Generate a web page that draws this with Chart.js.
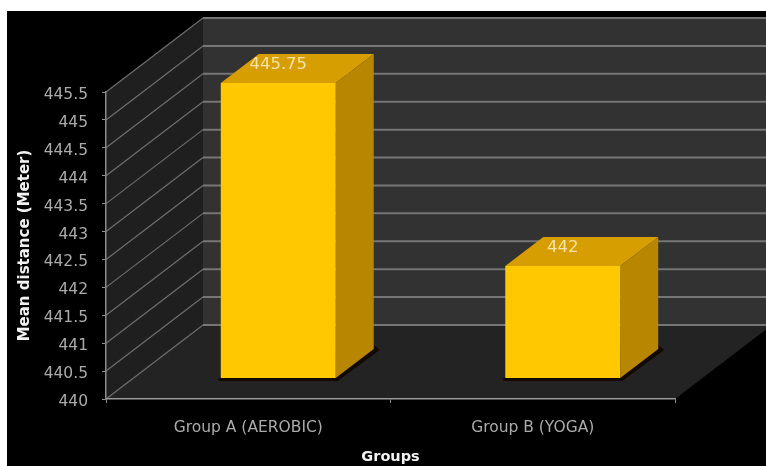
<!DOCTYPE html>
<html><head><meta charset="utf-8">
<style>html,body{margin:0;padding:0;background:#fff;overflow:hidden}
#w{position:absolute;left:0;top:0;width:766px;height:466px}
canvas{filter:blur(0.7px)}</style>
<script src="https://cdn.jsdelivr.net/npm/chart.js@4/dist/chart.umd.min.js"></script>
</head><body><div id="w"><canvas id="c" width="766" height="466"></canvas></div>
<script>
const categories = ["Group A (AEROBIC)", "Group B (YOGA)"];
const meanDistance = [445.75, 442];
const yTicks = [440,440.5,441,441.5,442,442.5,443,443.5,444,444.5,445,445.5];
const xTitle = "Groups";
const yTitle = "Mean distance (Meter)";

const DX = 97, DY = -74;          // wall depth
const BDX = 38, BDY = -29;        // bar depth
const SHIFT = 30;                 // bars sit forward on the floor

function poly(ctx, pts, fill){
  ctx.beginPath();
  pts.forEach((p,i)=> i?ctx.lineTo(p[0],p[1]):ctx.moveTo(p[0],p[1]));
  ctx.closePath(); ctx.fillStyle = fill; ctx.fill();
}
const scene = {
  id:'scene',
  beforeDraw(chart){
    const {ctx, chartArea:a, scales:{y}} = chart;
    ctx.save();
    ctx.fillStyle='#000'; ctx.fillRect(7,11,759,455);
    const t = y.getPixelForValue(yTicks[yTicks.length-1]), b = y.getPixelForValue(yTicks[0]);
    poly(ctx,[[a.left+DX,t+DY],[766,t+DY],[766,b+DY],[a.left+DX,b+DY]],'#323232');
    poly(ctx,[[a.left,t],[a.left+DX,t+DY],[a.left+DX,b+DY],[a.left,b]],'#1f1f1f');
    poly(ctx,[[a.left,b],[a.right,b],[a.right+DX,b+DY],[a.left+DX,b+DY]],'#232323');
    yTicks.forEach(v=>{
      const p = y.getPixelForValue(v);
      ctx.strokeStyle='#6e6e6e'; ctx.lineWidth=1.2;
      ctx.beginPath(); ctx.moveTo(a.left,p); ctx.lineTo(a.left+DX,p+DY); ctx.stroke();
      ctx.strokeStyle='#767676'; ctx.lineWidth=2;
      ctx.beginPath(); ctx.moveTo(a.left+DX,p+DY); ctx.lineTo(766,p+DY); ctx.stroke();
    });
    ctx.restore();
  },
  beforeDatasetDraw(chart,args){
    const ctx = chart.ctx;
    ctx.save(); ctx.translate(SHIFT,0);
    chart.getDatasetMeta(args.index).data.forEach(el=>{
      const {x,y,base,width} = el.getProps(['x','y','base','width']);
      const l=x-width/2, r=x+width/2;
      poly(ctx,[[l-2,base],[l-2,base+3],[r+2,base+3],[r+BDX+6,base+BDY+1],[r+BDX,base+BDY-4]],'#120a00');
      poly(ctx,[[l,y],[l+BDX,y+BDY],[r+BDX,y+BDY],[r,y]],'#d69e00');
      poly(ctx,[[r,y],[r+BDX,y+BDY],[r+BDX,base+BDY],[r,base]],'#b88600');
    });
  },
  afterDatasetDraw(chart,args){
    const ctx = chart.ctx;
    chart.getDatasetMeta(args.index).data.forEach((el,i)=>{
      const {x,y} = el.getProps(['x','y']);
      ctx.font='16.5px "DejaVu Sans"'; ctx.fillStyle='#f6e2a8';
      ctx.textAlign='center'; ctx.textBaseline='middle';
      ctx.fillText(String(meanDistance[i]), x, y-18);
    });
    ctx.restore();
  }
};

new Chart(document.getElementById('c'),{
  type:'bar',
  data:{labels:categories,datasets:[{
    data:meanDistance, yAxisID:'yBar', backgroundColor:'#ffc800', borderWidth:0,
    base:439.705, barPercentage:0.404, categoryPercentage:1, clip:false
  }]},
  plugins:[scene],
  options:{
    responsive:false, animation:false, events:[],
    layout:{padding:{left:16,right:91,top:92,bottom:0}},
    plugins:{legend:{display:false},tooltip:{enabled:false}},
    scales:{
      x:{
        afterFit(s){s.height=67;},
        grid:{drawOnChartArea:false,color:'#8a8a8a',tickLength:4,offset:true},
        border:{color:'#9a9a9a',width:1.5},
        ticks:{color:'#ababab',font:{family:'DejaVu Sans',size:15.5},padding:16,maxRotation:0},
        title:{display:true,text:xTitle,color:'#f2f2f2',font:{family:'DejaVu Sans',size:14.5,weight:'bold'},padding:{top:0,bottom:0}}
      },
      y:{
        min:440,max:445.5,
        afterBuildTicks(s){s.ticks=yTicks.map(v=>({value:v}));},
        afterFit(s){s.width=90;},
        grid:{drawOnChartArea:false,color:'#8a8a8a',tickLength:4},
        border:{color:'#8a8a8a',width:1.5},
        ticks:{color:'#ababab',font:{family:'DejaVu Sans',size:15.5},padding:14,labelOffset:3,callback:v=>String(v)},
        title:{display:true,text:yTitle,color:'#f2f2f2',font:{family:'DejaVu Sans',size:15,weight:'bold'},padding:{top:0,bottom:0}}
      },
      yBar:{display:false,min:439.275,max:445.566}
    }
  }
});
</script></body></html>
